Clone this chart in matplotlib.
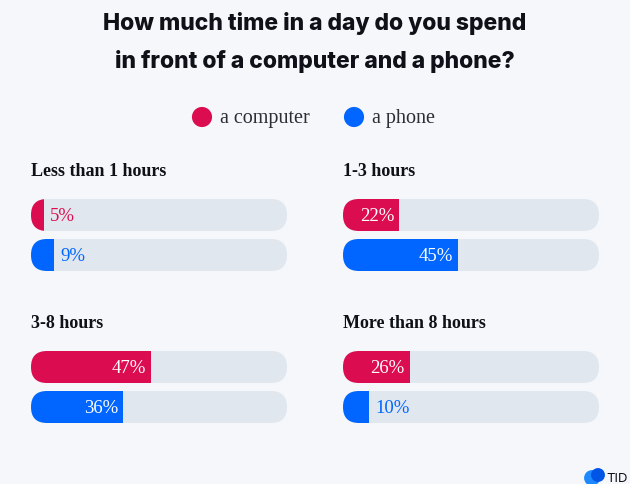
import matplotlib
matplotlib.use("Agg")
import matplotlib.pyplot as plt
from matplotlib.patches import FancyBboxPatch

# ---- data ----
categories = ["Less than 1 hours", "1-3 hours", "3-8 hours", "More than 8 hours"]
computer = [5, 22, 47, 26]
phone = [9, 45, 36, 10]
series_names = ["a computer", "a phone"]
title = "How much time in a day do you spend\nin front of a computer and a phone?"

# ---- style ----
BG = "#F5F7FA"
TRACK = "#E1E7EF"
RED = "#DC0C51"
BLUE = "#0066FF"
DARK = "#0E1117"
SANS = ["Inter", "DejaVu Sans"]
SERIF = ["Liberation Serif", "DejaVu Serif"]

W, H = 630, 484
fig = plt.figure(figsize=(W / 100, H / 100), dpi=100, facecolor=BG)

def px_axes(x0, y0, w, h):
    ax = fig.add_axes([x0 / W, 1 - (y0 + h) / H, w / W, h / H])
    ax.set_facecolor("none")
    ax.axis("off")
    return ax

# overlay axes in pixel coordinates for title / legend
bg = px_axes(0, 0, W, H)
bg.set_xlim(0, W)
bg.set_ylim(H, 0)

fig.text(0.5, 1 - 42.5 / H, title, ha="center", va="center", fontsize=16.5,
         fontweight=800, family=SANS, color=DARK, linespacing=1.8)

# legend
for cx, tx, col, name in [(202, 220, RED, series_names[0]), (354, 372, BLUE, series_names[1])]:
    bg.scatter([cx], [117], s=210, color=col, edgecolors="none")
    bg.text(tx, 117 + 6.5, name, ha="left", va="baseline", fontsize=14.5,
            family=SERIF, color="#2A2E35")

# TID logo fragment
bg.scatter([592], [478], s=130, color="#1E88FF", edgecolors="none", marker="o")
bg.scatter([598], [475], s=100, color="#0055E6", edgecolors="none", marker="o")
bg.text(606, 482, "TID", ha="left", va="baseline", fontsize=9.5, family=SANS, color=DARK)

panel_pos = [(31, 199), (343, 199), (31, 351), (343, 351)]
BAR_W, ROW_H, GAP = 256, 32, 8
xunit = 100 / BAR_W  # data units per pixel

for i, (px, py) in enumerate(panel_pos):
    ax = px_axes(px, py, BAR_W, 2 * ROW_H + GAP)
    ax.set_xlim(0, 100)
    ax.set_ylim(2 * ROW_H + GAP, 0)
    ax.text(0, -23, categories[i], ha="left", va="baseline", fontsize=13,
            fontweight="bold", family=SERIF, color=DARK, clip_on=False)
    vals = [computer[i], phone[i]]
    cols = [RED, BLUE]
    for r in range(2):
        c = ROW_H / 2 + r * (ROW_H + GAP)
        track = FancyBboxPatch((0, c - ROW_H / 2), 100, ROW_H,
                               boxstyle=f"round,pad=0,rounding_size={ROW_H / 2 * xunit}",
                               mutation_aspect=1 / xunit, fc=TRACK, ec="none")
        ax.add_patch(track)
        bars = ax.barh([c], [vals[r]], height=ROW_H, left=0, color=cols[r], edgecolor="none")
        for b in bars:
            b.set_clip_path(track)
        v = vals[r]
        if v >= 15:
            ax.text(v - 5 * xunit, c + 6.3, f"{v}%", ha="right", va="baseline",
                    fontsize=13.5, family=SERIF, color="white")
        else:
            ax.text(v + 6.5 * xunit, c + 6.3, f"{v}%", ha="left", va="baseline",
                    fontsize=13.5, family=SERIF, color=cols[r])

fig.savefig("out.png", dpi=100, facecolor=BG)
